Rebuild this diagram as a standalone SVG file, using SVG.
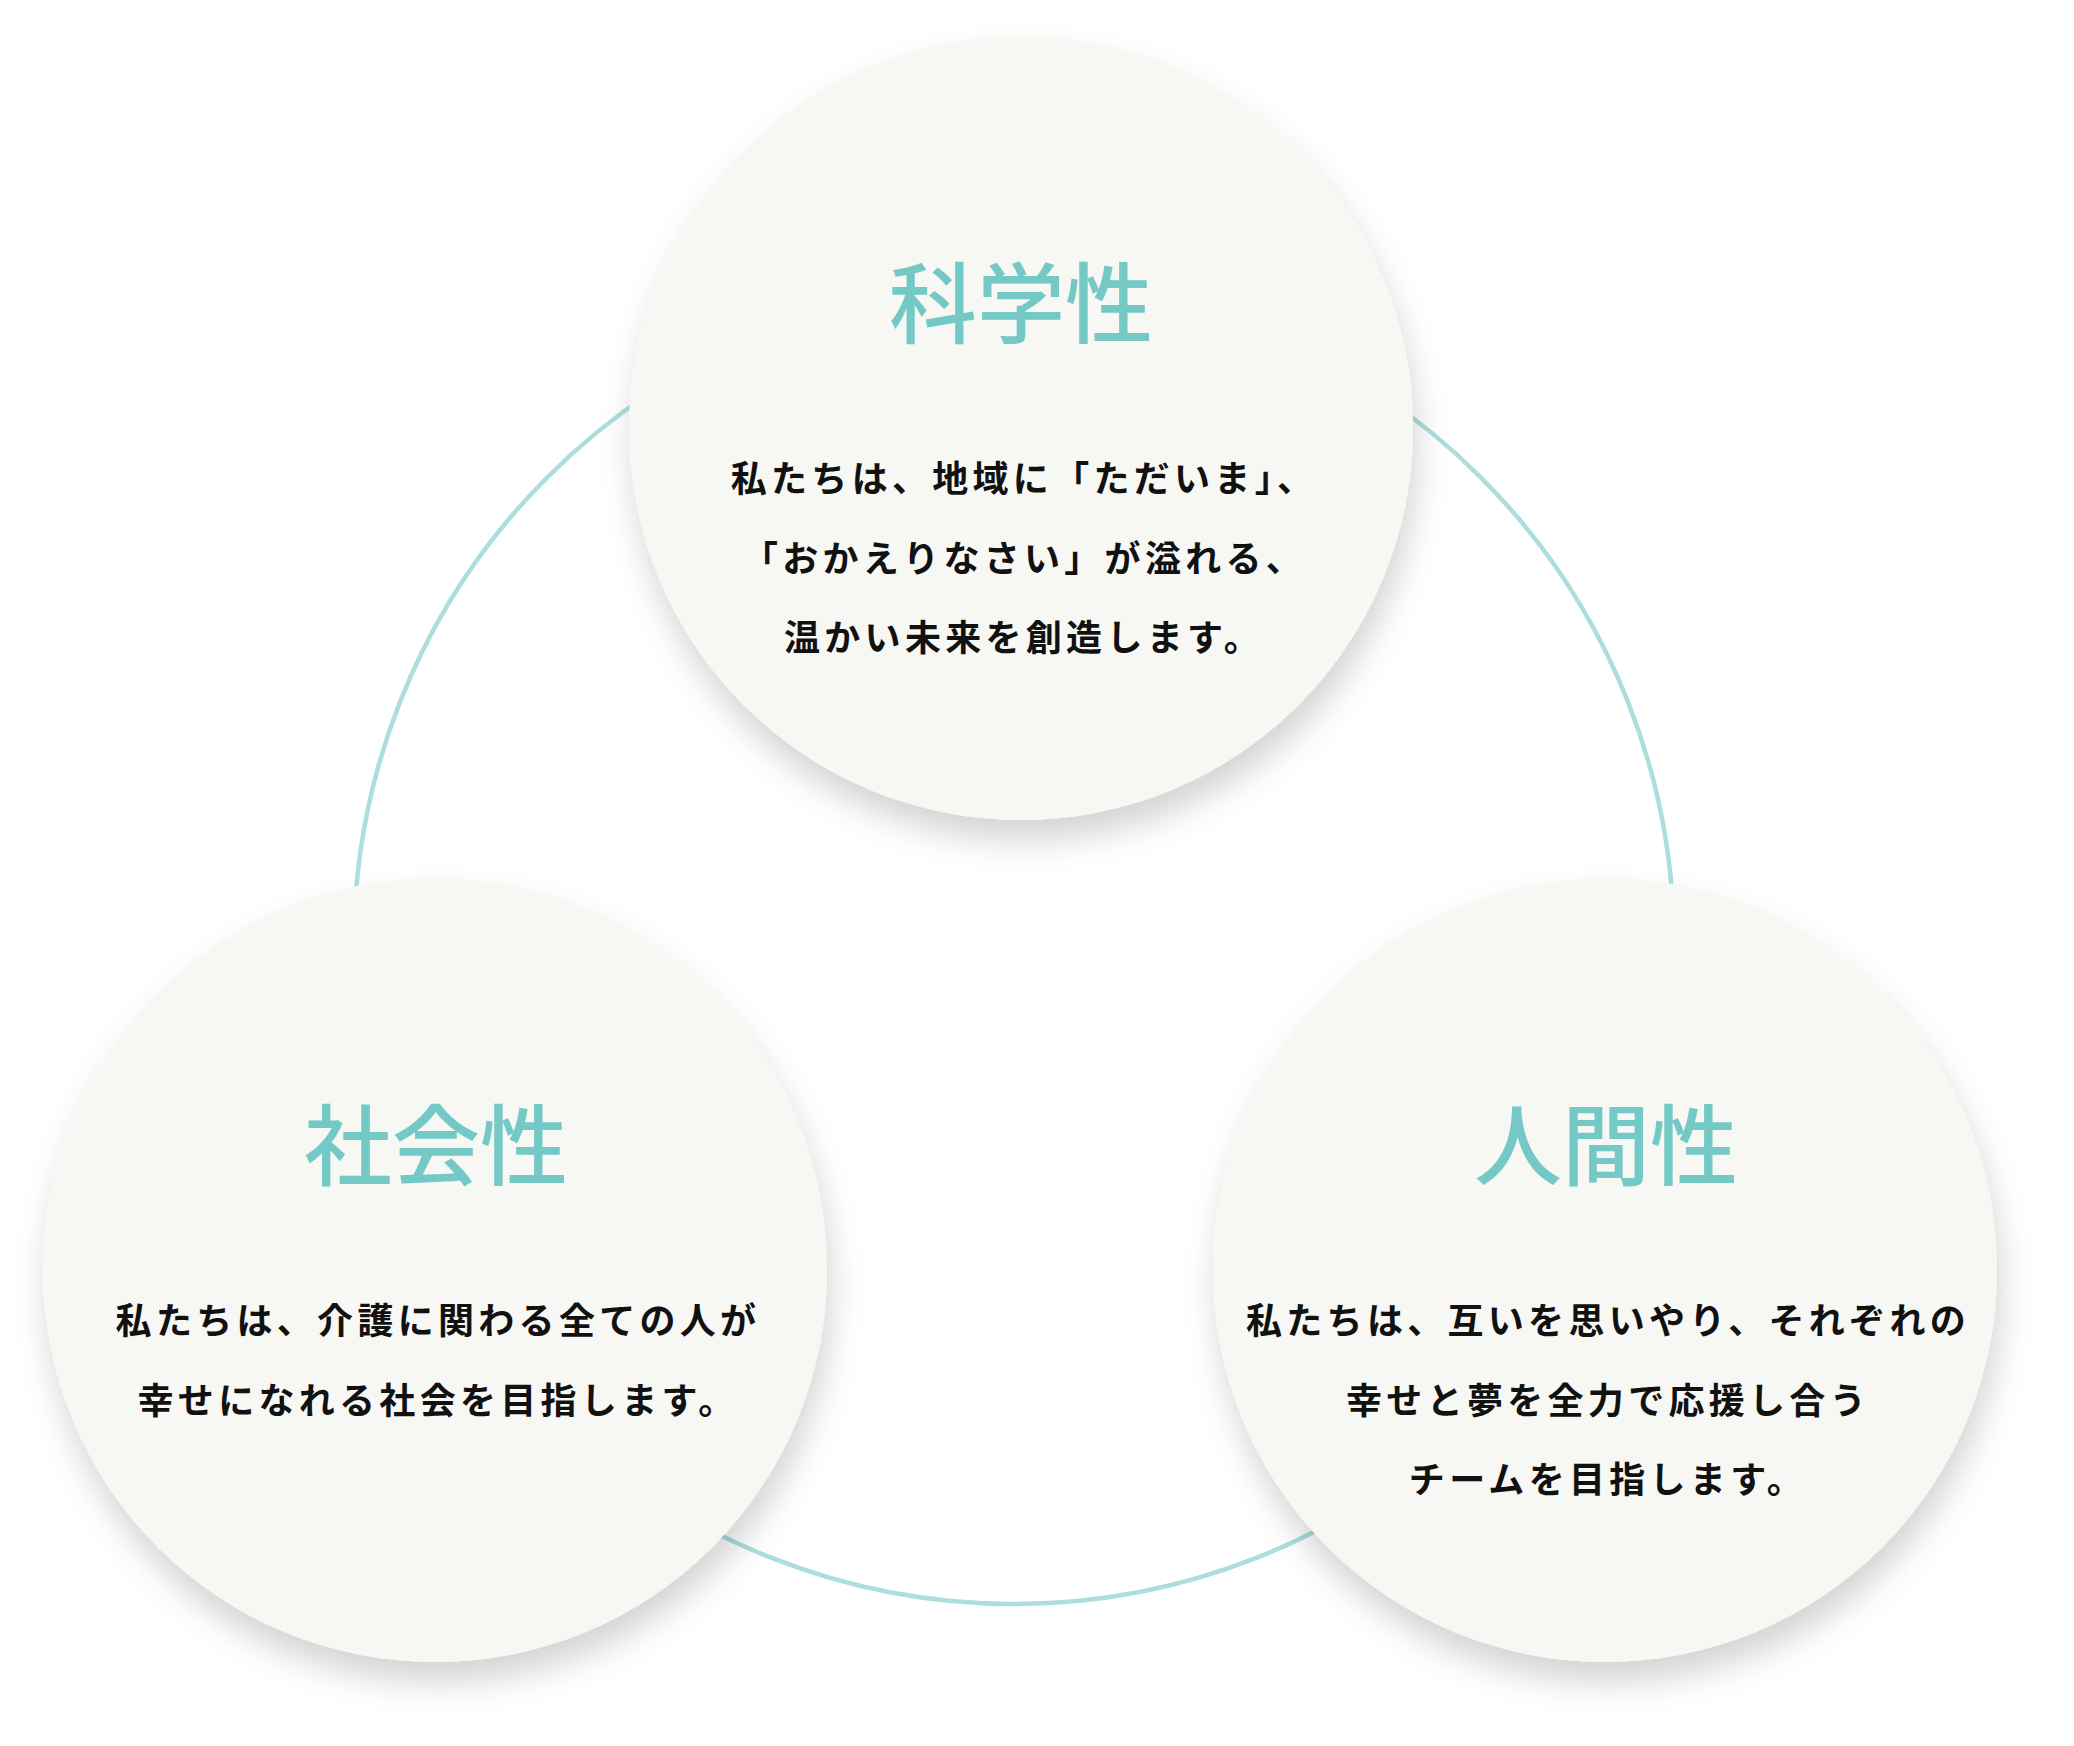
<svg xmlns="http://www.w3.org/2000/svg" width="2074" height="1746" viewBox="0 0 2074 1746">
<defs>
<filter id="shadow" x="-20%" y="-20%" width="140%" height="150%">
<feDropShadow dx="4" dy="20" stdDeviation="16" flood-color="#000" flood-opacity="0.17"/>
</filter>
<style>
.bubble{fill:#f7f7f3;filter:url(#shadow);}
.ring{fill:none;stroke:#abdedd;stroke-width:4.5;}
.title{font-family:"Noto Sans CJK JP","Noto Sans CJK SC",sans-serif;font-size:88px;font-weight:500;fill:#74c9c7;text-anchor:middle;}
.body{font-family:"Noto Sans CJK JP","Noto Sans CJK SC",sans-serif;font-size:36px;font-weight:700;fill:#111;text-anchor:middle;letter-spacing:4.3px;}
</style>
</defs>
<rect width="2074" height="1746" fill="#fff"/>
<g id="connectors">
<circle class="ring" cx="1014" cy="944" r="660"/>
</g>
<g id="node-science">
<circle class="bubble" cx="1021" cy="428" r="392"/>
<text class="title" x="1021" y="336">科学性</text>
<text class="body" x="1024" y="492">私たちは、地域に「ただいま」、</text>
<text class="body" x="1024" y="571.5">「おかえりなさい」が溢れる、</text>
<text class="body" x="1024" y="651">温かい未来を創造します。</text>
</g>
<g id="node-society">
<circle class="bubble" cx="435" cy="1270" r="392"/>
<text class="title" x="436" y="1178">社会性</text>
<text class="body" x="438" y="1334">私たちは、介護に関わる全ての人が</text>
<text class="body" x="438" y="1413.5">幸せになれる社会を目指します。</text>
</g>
<g id="node-humanity">
<circle class="bubble" cx="1605" cy="1270" r="392"/>
<text class="title" x="1606" y="1178">人間性</text>
<text class="body" x="1608" y="1334">私たちは、互いを思いやり、それぞれの</text>
<text class="body" x="1608" y="1413.5">幸せと夢を全力で応援し合う</text>
<text class="body" x="1608" y="1493">チームを目指します。</text>
</g>
</svg>
